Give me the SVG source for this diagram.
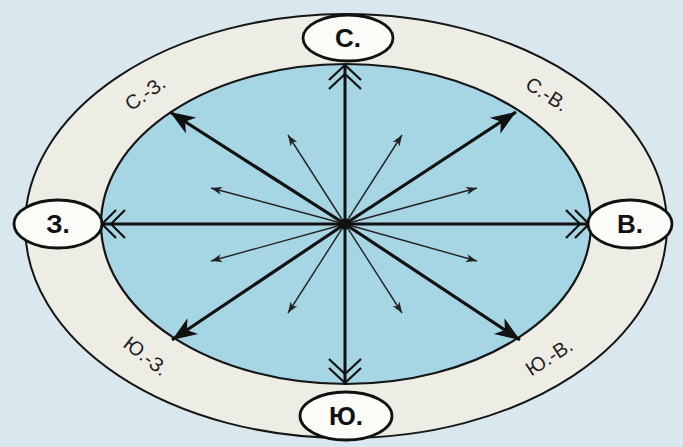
<svg xmlns="http://www.w3.org/2000/svg" width="683" height="447" viewBox="0 0 683 447">
<style>
.ring{fill:#eeede5;stroke:#151515;stroke-width:2}
.inner{fill:#a6d5e3;stroke:#151515;stroke-width:2.2}
.node ellipse{fill:#fbfbf7;stroke:#111;stroke-width:2.8}
.node text{font-family:"Liberation Sans",Arial,sans-serif;font-weight:bold;font-size:26px;fill:#111;text-anchor:middle}
.lbl{font-family:"Liberation Sans",Arial,sans-serif;font-size:20px;fill:#1e1e1e;text-anchor:middle}
.main{stroke:#111;stroke-width:3;fill:none}
.diag{stroke:#111;stroke-width:3.2;fill:none}
.thin{stroke:#222;stroke-width:1.4;fill:none}
.chev{stroke:#111;stroke-width:2.2;fill:none}
</style>
<defs>
<marker id="bigHead" markerUnits="userSpaceOnUse" markerWidth="30" markerHeight="24" refX="0" refY="0" viewBox="-26 -12 28 24" orient="auto">
<path d="M0,0 L-25,-9.5 L-18,0 L-25,9.5 Z" fill="#111"/>
</marker>
<marker id="smallHead" markerUnits="userSpaceOnUse" markerWidth="14" markerHeight="10" refX="0" refY="0" viewBox="-12 -5 13 10" orient="auto">
<path d="M0,0 L-11,-4 L-8,0 L-11,4 Z" fill="#222"/>
</marker>
</defs>
<rect width="683" height="447" fill="#d9e7ee"/>
<ellipse class="ring" cx="346" cy="226" rx="321" ry="212"/>
<ellipse class="inner" cx="346" cy="224" rx="245" ry="160"/>
<g id="connectors">
<line class="thin" x1="345" y1="224" x2="288" y2="135" marker-end="url(#smallHead)"/>
<line class="thin" x1="345" y1="224" x2="402" y2="135" marker-end="url(#smallHead)"/>
<line class="thin" x1="345" y1="224" x2="211" y2="188" marker-end="url(#smallHead)"/>
<line class="thin" x1="345" y1="224" x2="477" y2="188" marker-end="url(#smallHead)"/>
<line class="thin" x1="345" y1="224" x2="211" y2="261" marker-end="url(#smallHead)"/>
<line class="thin" x1="345" y1="224" x2="477" y2="261" marker-end="url(#smallHead)"/>
<line class="thin" x1="345" y1="224" x2="288" y2="313" marker-end="url(#smallHead)"/>
<line class="thin" x1="345" y1="224" x2="402" y2="313" marker-end="url(#smallHead)"/>
<line class="diag" x1="345" y1="224" x2="170" y2="112" marker-end="url(#bigHead)"/>
<line class="diag" x1="345" y1="224" x2="516" y2="112" marker-end="url(#bigHead)"/>
<line class="diag" x1="345" y1="224" x2="172" y2="340" marker-end="url(#bigHead)"/>
<line class="diag" x1="345" y1="224" x2="520" y2="340" marker-end="url(#bigHead)"/>
<line class="main" x1="345" y1="224" x2="345" y2="65"/>
<path class="chev" d="M329,80 L345,65 L361,80 M329,89 L345,74 L361,89"/>
<line class="main" x1="345" y1="224" x2="345" y2="383"/>
<path class="chev" d="M329,368 L345,383 L361,368 M329,359 L345,374 L361,359"/>
<line class="main" x1="345" y1="224" x2="102" y2="224"/>
<path class="chev" d="M116,210 L102,224 L116,238 M125,210 L111,224 L125,238"/>
<line class="main" x1="345" y1="224" x2="589" y2="224"/>
<path class="chev" d="M575,210 L589,224 L575,238 M566,210 L580,224 L566,238"/>
<circle cx="345" cy="224" r="5.5" fill="#111"/>
</g>
<g id="node-N" class="node"><ellipse cx="348" cy="38" rx="45" ry="23"/><text x="348" y="47">С.</text></g>
<g id="node-W" class="node"><ellipse cx="58" cy="224" rx="44" ry="24"/><text x="58" y="233">З.</text></g>
<g id="node-E" class="node"><ellipse cx="630" cy="224" rx="42" ry="24"/><text x="630" y="233">В.</text></g>
<g id="node-S" class="node"><ellipse cx="346" cy="416" rx="46" ry="24"/><text x="346" y="425">Ю.</text></g>
<g id="label-NW"><text class="lbl" transform="translate(145,93) rotate(-35)" y="7">С.-З.</text></g>
<g id="label-NE"><text class="lbl" transform="translate(547,94) rotate(33)" y="7">С.-В.</text></g>
<g id="label-SW"><text class="lbl" transform="translate(146,356) rotate(38)" y="7">Ю.-З.</text></g>
<g id="label-SE"><text class="lbl" transform="translate(549,357) rotate(-33)" y="7">Ю.-В.</text></g>
</svg>
